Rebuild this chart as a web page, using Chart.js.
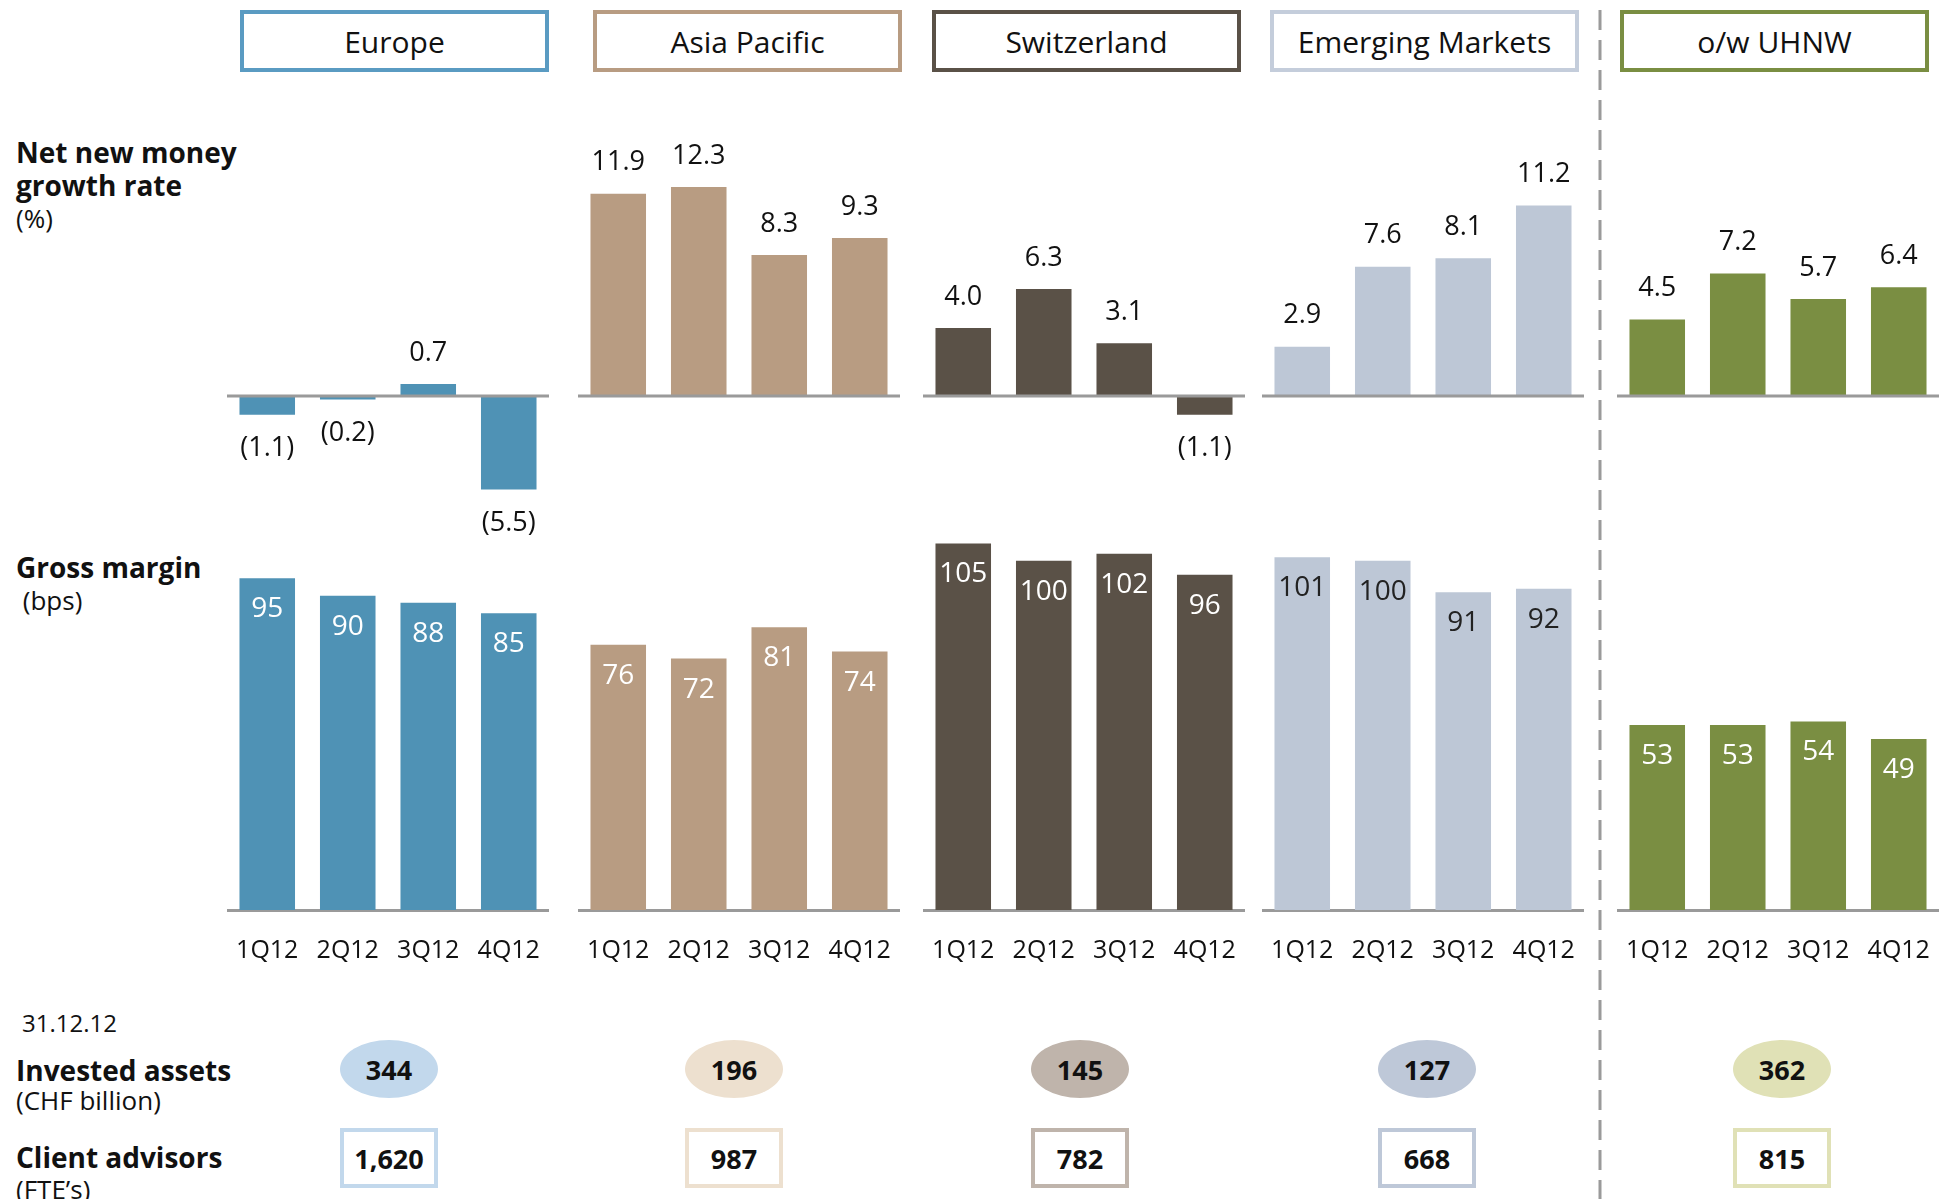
<!DOCTYPE html>
<html>
<head>
<meta charset="utf-8">
<script src="https://cdn.jsdelivr.net/npm/chart.js"></script>
<style>
  body { margin: 0; background: #fff; font-family: 'Open Sans', sans-serif; color: #111; }
  #page { position: relative; width: 1953px; height: 1199px; overflow: hidden; background: #fff; }
  .head { position: absolute; top: 10px; height: 62px; box-sizing: border-box; border: 4px solid;
          display: flex; align-items: center; justify-content: center; font-size: 30px; }
  .side { position: absolute; left: 16px; font-size: 26px; }
  .side b { font-weight: 700; font-size: 28px; }
  .oval { position: absolute; width: 98px; height: 58px; border-radius: 50%; display: flex;
          align-items: center; justify-content: center; font-weight: 700; font-size: 27px; }
  .box { position: absolute; width: 98px; height: 60px; box-sizing: border-box; border: 4px solid; background: #fff;
         display: flex; align-items: center; justify-content: center; font-weight: 700; font-size: 27px; }
  .panel { position: absolute; }
</style>
</head>
<body>
<div id="page">
  <svg width="1953" height="1199" style="position:absolute;left:0;top:0">
    <line x1="1600" y1="10" x2="1600" y2="1199" stroke="#9a9a9a" stroke-width="3" stroke-dasharray="20,10"/>
  </svg>
  <div class="side" style="top:136px;line-height:32px"><b>Net new money<br>growth rate</b><br>(%)</div>
  <div class="side" style="top:551px;line-height:32px"><b>Gross margin</b><br>&nbsp;(bps)</div>
  <div class="side" style="top:1007px;left:22px;line-height:32px;font-size:24px">31.12.12</div>
  <div class="side" style="top:1056px;line-height:29px"><b>Invested assets</b><br>(CHF billion)</div>
  <div class="side" style="top:1142px;line-height:31px"><b>Client advisors</b><br>(FTE’s)</div>
</div>

<script>
var quarters = ["1Q12", "2Q12", "3Q12", "4Q12"];
var regions = ["Europe", "Asia Pacific", "Switzerland", "Emerging Markets", "o/w UHNW"];

// net new money growth rate (%)
var nnmEurope = [-1.1, -0.2, 0.7, -5.5];
var nnmAsiaPacific = [11.9, 12.3, 8.3, 9.3];
var nnmSwitzerland = [4.0, 6.3, 3.1, -1.1];
var nnmEmergingMarkets = [2.9, 7.6, 8.1, 11.2];
var nnmUhnw = [4.5, 7.2, 5.7, 6.4];

// gross margin (bps)
var gmEurope = [95, 90, 88, 85];
var gmAsiaPacific = [76, 72, 81, 74];
var gmSwitzerland = [105, 100, 102, 96];
var gmEmergingMarkets = [101, 100, 91, 92];
var gmUhnw = [53, 53, 54, 49];

// 31.12.12
var investedAssets = [344, 196, 145, 127, 362];
var clientAdvisors = [1620, 987, 782, 668, 815];

var nnmSeries = [nnmEurope, nnmAsiaPacific, nnmSwitzerland, nnmEmergingMarkets, nnmUhnw];
var gmSeries = [gmEurope, gmAsiaPacific, gmSwitzerland, gmEmergingMarkets, gmUhnw];

// layout + styles
var panelLeft = [227, 578, 923, 1262, 1617];
var panelWidth = 322;
var headLeft = [240, 593, 932, 1270, 1620];
var headWidth = 309;
var ovalCenter = [389, 734, 1080, 1427, 1782];
var barColors = ["#4f92b5", "#b89c82", "#5a5147", "#bdc7d6", "#7a8e42"];
var headColors = ["#5a9bc2", "#b89c82", "#5a5147", "#c4cddb", "#7a8e42"];
var gmTextColors = ["#fff", "#fff", "#fff", "#222", "#fff"];
var lightColors = ["#c2d8ec", "#ede0cf", "#bfb4ab", "#bec8d8", "#e0e1b6"];

Chart.defaults.font.family = "'Open Sans', sans-serif";
Chart.defaults.color = "#111";

function fmtNnm(v) {
  return v < 0 ? "(" + Math.abs(v).toFixed(1) + ")" : v.toFixed(1);
}

var valueLabels = {
  id: "valueLabels",
  afterDatasetsDraw(chart, args, opts) {
    var ctx = chart.ctx;
    var meta = chart.getDatasetMeta(0);
    var data = chart.data.datasets[0].data;
    ctx.save();
    ctx.textAlign = "center";
    ctx.textBaseline = "middle";
    if (opts.kind === "nnm") {
      // zero line
      var y0 = chart.scales.y.getPixelForValue(0);
      ctx.strokeStyle = "#9a9a9a";
      ctx.lineWidth = 3;
      ctx.beginPath();
      ctx.moveTo(chart.chartArea.left, y0);
      ctx.lineTo(chart.chartArea.right, y0);
      ctx.stroke();
      ctx.font = "27px 'Open Sans', sans-serif";
      ctx.fillStyle = "#111";
      meta.data.forEach(function (bar, i) {
        var v = data[i];
        var y = v >= 0 ? bar.y - 31 : bar.y + 34;
        ctx.fillText(fmtNnm(v), bar.x, y);
      });
    } else {
      ctx.font = "28px 'Open Sans', sans-serif";
      ctx.fillStyle = opts.color;
      meta.data.forEach(function (bar, i) {
        ctx.fillText(String(data[i]), bar.x, bar.y + 31);
      });
    }
    ctx.restore();
  }
};

function makePanel(top, height, pad, cfg) {
  var page = document.getElementById("page");
  var div = document.createElement("div");
  div.className = "panel";
  div.style.left = cfg.left + "px";
  div.style.top = top + "px";
  var cv = document.createElement("canvas");
  cv.width = panelWidth;
  cv.height = height;
  cv.style.width = panelWidth + "px";
  cv.style.height = height + "px";
  div.appendChild(cv);
  page.appendChild(div);
  return new Chart(cv, {
    type: "bar",
    data: {
      labels: quarters,
      datasets: [{
        data: cfg.data,
        backgroundColor: cfg.color,
        borderWidth: 0,
        categoryPercentage: 1,
        barPercentage: 0.69
      }]
    },
    options: {
      responsive: false,
      animation: false,
      layout: { padding: pad },
      plugins: {
        legend: { display: false },
        tooltip: { enabled: false },
        valueLabels: cfg.labels
      },
      scales: {
        x: cfg.xAxis,
        y: { display: false, min: cfg.min, max: cfg.max }
      }
    },
    plugins: [valueLabels]
  });
}

for (var r = 0; r < regions.length; r++) {
  var page = document.getElementById("page");

  var head = document.createElement("div");
  head.className = "head";
  head.style.left = headLeft[r] + "px";
  head.style.width = headWidth + "px";
  head.style.borderColor = headColors[r];
  head.textContent = regions[r];
  page.appendChild(head);

  // NNM panel: chart area 175..515, zero at 396
  makePanel(135, 420, { top: 40, bottom: 40, left: 0, right: 0 }, {
    left: panelLeft[r],
    data: nnmSeries[r],
    color: barColors[r],
    min: -7, max: 13,
    labels: { kind: "nnm" },
    xAxis: { display: false }
  });

  // gross margin panel: chart area 491..910
  makePanel(481, 489, { top: 10, bottom: 0, left: 0, right: 0 }, {
    left: panelLeft[r],
    data: gmSeries[r],
    color: barColors[r],
    min: 0, max: 120,
    labels: { kind: "gm", color: gmTextColors[r] },
    xAxis: {
      grid: { display: false, drawTicks: true, tickLength: 26 },
      border: { display: true, color: "#9a9a9a", width: 3 },
      ticks: { padding: 0, color: "#111", font: { size: 25 }, maxRotation: 0 },
      afterFit: function (scale) { scale.height = 60; }
    }
  });

  var oval = document.createElement("div");
  oval.className = "oval";
  oval.style.left = (ovalCenter[r] - 49) + "px";
  oval.style.top = (1069 - 29) + "px";
  oval.style.background = lightColors[r];
  oval.textContent = investedAssets[r];
  page.appendChild(oval);

  var box = document.createElement("div");
  box.className = "box";
  box.style.left = (ovalCenter[r] - 49) + "px";
  box.style.top = "1128px";
  box.style.borderColor = lightColors[r];
  box.textContent = clientAdvisors[r].toLocaleString("en-US");
  page.appendChild(box);
}
</script>
</body>
</html>
